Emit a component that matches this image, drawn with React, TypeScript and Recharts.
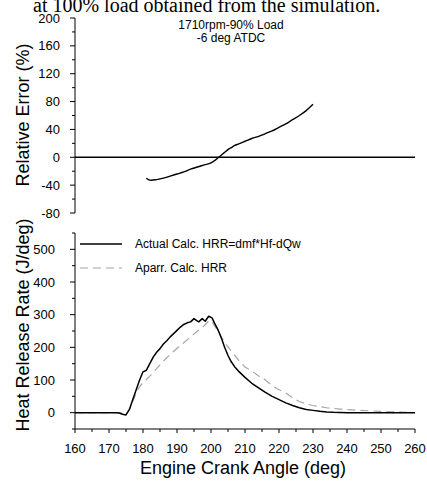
import React from 'react';
import { LineChart, Line, XAxis, YAxis, ReferenceLine } from 'recharts';

// Relative error (%) vs crank angle
const errAngles = [181, 181.6, 182.5, 184, 186, 188, 190, 192, 194, 196, 198, 200, 201, 202, 203, 204, 205, 206, 207, 208, 210, 212, 214, 216, 218, 220, 222, 224, 226, 228, 230];
const errValues = [-30, -32, -33, -32, -30, -27, -24, -21, -17, -14, -11, -8, -5, -1, 3, 7, 11, 14, 17, 19, 23, 27, 30, 34, 38, 43, 48, 54, 60, 67, 76];

// Actual calc. HRR (J/deg)
const actAngles = [160, 172, 173, 174, 175, 176, 177, 178, 179, 180, 181, 182, 183, 184, 185, 186, 187, 188, 189, 190, 191, 192, 193, 194, 195, 195.8, 196.4, 197.4, 198.3, 199.3, 200.3, 201, 202, 203, 204, 205, 206, 207, 208, 210, 212, 214, 216, 218, 220, 222, 224, 226, 228, 230, 232, 234, 236, 240, 250, 260];
const actualHrr = [0, 0, -1, -5, -7, 10, 40, 70, 100, 125, 130, 150, 170, 185, 196, 210, 220, 232, 242, 252, 262, 270, 275, 278, 288, 282, 278, 288, 280, 295, 290, 275, 255, 230, 200, 175, 155, 140, 128, 108, 90, 76, 62, 50, 40, 30, 22, 15, 10, 7, 4, 2, 1, 0, 0, 0];

// Apparent calc. HRR (J/deg)
const aprAngles = [160, 173, 174, 175, 176, 177, 178, 179, 180, 182, 184, 186, 188, 190, 192, 194, 196, 198, 199.5, 200.5, 202, 204, 206, 208, 210, 212, 214, 216, 218, 220, 222, 224, 226, 228, 230, 234, 238, 244, 250, 256, 260];
const apparentHrr = [0, 0, -2, -4, 8, 35, 60, 80, 92, 112, 135, 158, 178, 197, 214, 232, 250, 266, 283, 275, 250, 215, 188, 162, 140, 128, 112, 100, 82, 70, 60, 46, 34, 27, 22, 15, 11, 7, 4, 2, 0];

const xTicks = [160, 165, 170, 175, 180, 185, 190, 195, 200, 205, 210, 215, 220, 225, 230, 235, 240, 245, 250, 255, 260];
const errTicks = [-80, -60, -40, -20, 0, 20, 40, 60, 80, 100, 120, 140, 160, 180, 200];
const hrrTicks = [-50, 0, 50, 100, 150, 200, 250, 300, 350, 400, 450, 500, 550];

const errData = errAngles.map((a, i) => ({ a, v: errValues[i] }));
const actData = actAngles.map((a, i) => ({ a, v: actualHrr[i] }));
const aprData = aprAngles.map((a, i) => ({ a, v: apparentHrr[i] }));

const FONT = '"Liberation Sans", Arial, sans-serif';

const makeYTick = (step: number, gap: number) => (props: any) => {
  const { x, y, payload } = props;
  const v = payload.value;
  const major = v % step === 0;
  return (
    <g>
      <line x1={x} x2={x - (major ? 5 : 3)} y1={y} y2={y} stroke="#000" strokeWidth={1} />
      {major && (
        <text x={x - gap} y={y} dy="0.35em" textAnchor="end" fontSize={13} fontFamily={FONT} fill="#000">
          {v}
        </text>
      )}
    </g>
  );
};

const XTick = (props: any) => {
  const { x, y, payload } = props;
  const v = payload.value;
  const major = v % 10 === 0;
  return (
    <g>
      <line x1={x} x2={x} y1={y} y2={y + (major ? 4 : 3)} stroke="#000" strokeWidth={1} />
      {major && (
        <text x={x} y={y + 19} dy="0.35em" textAnchor="middle" fontSize={13} fontFamily={FONT} fill="#000">
          {v}
        </text>
      )}
    </g>
  );
};

const ErrTick = makeYTick(40, 15);
const HrrTick = makeYTick(100, 20);

export default function App() {
  return (
    <div style={{ position: 'fixed', left: 0, top: 0, width: 427, height: 481, background: '#fff', overflow: 'hidden' }}>
      <div style={{ position: 'absolute', left: 0, top: 0 }}>
        <LineChart width={427} height={230} margin={{ top: 18, right: 12, left: 0, bottom: 17 }}>
          <XAxis type="number" dataKey="a" domain={[160, 260]} hide allowDataOverflow />
          <YAxis
            type="number"
            domain={[-80, 200]}
            ticks={errTicks}
            interval={0}
            width={75}
            tickSize={0}
            tickMargin={0}
            tickLine={false}
            tick={<ErrTick />}
            axisLine={{ stroke: '#000', strokeWidth: 1 }}
          />
          <ReferenceLine y={0} stroke="#000" strokeWidth={1.5} />
          <Line data={errData} dataKey="v" type="monotone" stroke="#000" strokeWidth={1.4} dot={false} isAnimationActive={false} />
        </LineChart>
      </div>
      <div style={{ position: 'absolute', left: 0, top: 200 }}>
        <LineChart width={427} height={281} margin={{ top: 33, right: 12, left: 0, bottom: 22 }}>
          <XAxis
            type="number"
            dataKey="a"
            domain={[160, 260]}
            ticks={xTicks}
            interval={0}
            height={30}
            tickSize={0}
            tickMargin={0}
            tickLine={false}
            tick={<XTick />}
            axisLine={{ stroke: '#000', strokeWidth: 1 }}
            allowDataOverflow
          />
          <YAxis
            type="number"
            domain={[-50, 550]}
            ticks={hrrTicks}
            interval={0}
            width={75}
            tickSize={0}
            tickMargin={0}
            tickLine={false}
            tick={<HrrTick />}
            axisLine={{ stroke: '#000', strokeWidth: 1 }}
          />
          <Line data={aprData} dataKey="v" type="linear" stroke="#a6a6a6" strokeWidth={1.2} strokeDasharray="8 5" dot={false} isAnimationActive={false} />
          <Line data={actData} dataKey="v" type="linear" stroke="#000" strokeWidth={1.5} dot={false} isAnimationActive={false} strokeLinejoin="round" />
        </LineChart>
      </div>
      <svg width={427} height={481} style={{ position: 'absolute', left: 0, top: 0, pointerEvents: 'none' }}>
        <text x={33} y={12} fontFamily='"Liberation Serif", "Times New Roman", serif' fontSize={20} fill="#000">
          at 100% load obtained from the simulation.
        </text>
        <text x={231} y={29} textAnchor="middle" fontFamily={FONT} fontSize={12} fill="#000">1710rpm-90% Load</text>
        <text x={231} y={42} textAnchor="middle" fontFamily={FONT} fontSize={12} fill="#000">-6 deg ATDC</text>
        <text x={23} y={115} dy="0.35em" textAnchor="middle" fontFamily={FONT} fontSize={18} fill="#000" transform="rotate(-90 23 115)">
          Relative Error (%)
        </text>
        <text x={23} y={325} dy="0.35em" textAnchor="middle" fontFamily={FONT} fontSize={18} fill="#000" transform="rotate(-90 23 325)">
          Heat Release Rate (J/deg)
        </text>
        <text x={243} y={474} textAnchor="middle" fontFamily={FONT} fontSize={18} fill="#000">
          Engine Crank Angle (deg)
        </text>
        <line x1={80} x2={122} y1={244} y2={244} stroke="#000" strokeWidth={1.5} />
        <text x={135} y={248} fontFamily={FONT} fontSize={12} fill="#000">Actual Calc. HRR=dmf*Hf-dQw</text>
        <line x1={80} x2={122} y1={268} y2={268} stroke="#a6a6a6" strokeWidth={1.2} strokeDasharray="8 5" />
        <text x={135} y={272} fontFamily={FONT} fontSize={12} fill="#000">Aparr. Calc. HRR</text>
      </svg>
    </div>
  );
}
